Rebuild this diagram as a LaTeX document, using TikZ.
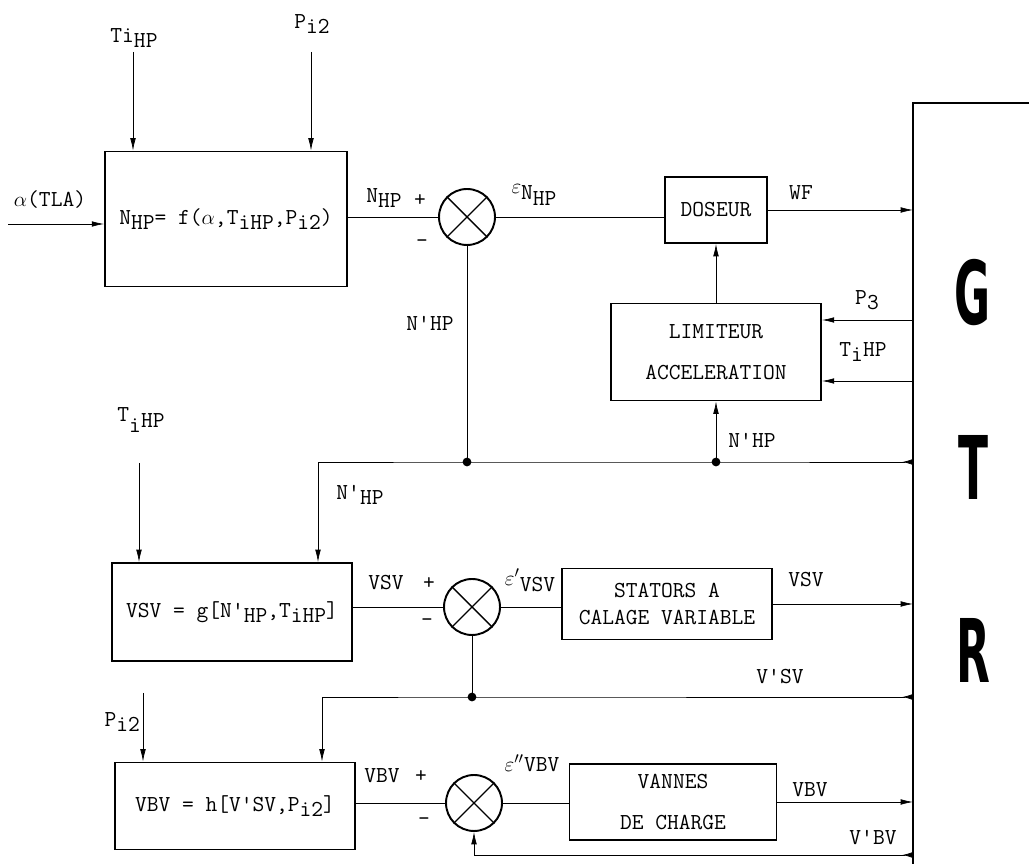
\documentclass[tikz,border=0pt]{standalone}
\usepackage{fontspec}
\usepackage{tikz}
\usetikzlibrary{arrows.meta}
\newfontfamily\gtrfont{DejaVu Sans}

\newcommand{\lowtxt}[1]{\raisebox{-0.55ex}{#1}}
\newcommand{\hightxt}[1]{\raisebox{0.6ex}{#1}}

\begin{document}
\begin{tikzpicture}[x=0.02cm,y=-0.02cm,
  >={Latex[length=7pt,width=3.2pt]},
  every node/.style={font=\ttfamily\fontsize{13}{15}\selectfont},
  blk/.style={draw,line width=1.1pt,align=center,inner sep=0pt},
  summer/.style={draw,circle,line width=1.1pt,minimum size=1.12cm,inner sep=0pt},
  dot/.style={circle,fill,inner sep=0pt,minimum size=5pt},
  lbl/.style={inner sep=1pt},
  back/.style={{Latex[reversed,length=6pt,width=3.5pt]}->},
  gtrtxt/.style={font=\gtrfont\bfseries\fontsize{50}{50}\selectfont}]
  \useasboundingbox (0,0) rectangle (1029,864);
  % blocks
  \node[blk,minimum width=4.84cm,minimum height=2.7cm] (fbox) at (226,219)
    {N\lowtxt{HP}= f($\alpha$,T\lowtxt{iHP},P\lowtxt{i2})};
  \node[summer] (sum1) at (467,217) {};
  \node[blk,minimum width=2.04cm,minimum height=1.32cm] (doseur) at (716,210) {DOSEUR};
  \node[blk,minimum width=4.2cm,minimum height=1.94cm] (lim) at (716,352)
    {LIMITEUR\\[8pt]ACCELERATION};
  \node[blk,minimum width=4.8cm,minimum height=1.96cm] (vsvbox) at (232,612)
    {VSV = g[N'\lowtxt{HP},T\lowtxt{iHP}]};
  \node[summer] (sum2) at (472,607) {};
  \node[blk,minimum width=4.2cm,minimum height=1.42cm] (stat) at (667,604)
    {STATORS A\\[0pt]CALAGE VARIABLE};
  \node[blk,minimum width=4.8cm,minimum height=1.74cm] (vbvbox) at (235,806)
    {VBV = h[V'SV,P\lowtxt{i2}]};
  \node[summer] (sum3) at (474,803) {};
  \node[blk,minimum width=4.14cm,minimum height=1.52cm] (vannes) at (673,802)
    {VANNES\\[8pt]DE CHARGE};
  \foreach \s in {sum1,sum2,sum3}
    \draw[line width=0.8pt] (\s.north west) -- (\s.south east)
                            (\s.north east) -- (\s.south west);
  % GTR
  \coordinate (gtr) at (913,103);
  \draw[line width=1.1pt] (1029,103) -- (gtr) -- (913,864);
  \node[gtrtxt] (lg) at (973,293) {\scalebox{0.5}[1]{G}};
  \node[gtrtxt] (lt) at (973,467) {\scalebox{0.5}[1]{T}};
  \node[gtrtxt] (lr) at (973,650) {\scalebox{0.5}[1]{R}};
  % inputs of the first block
  \coordinate (ain) at (8,224);
  \coordinate (ti1) at (133,52);
  \coordinate (pi1) at (311,52);
  \draw[->] (ain) -- (ain -| fbox.west);
  \draw[->] (ti1) -- (ti1 |- fbox.north);
  \draw[->] (pi1) -- (pi1 |- fbox.north);
  \node[lbl] (lalpha) at (50,200) {$\alpha$(TLA)};
  \node[lbl] (lti1) at (134,38) {Ti\lowtxt{HP}};
  \node[lbl] (lpi1) at (312,24) {P\lowtxt{i2}};
  % speed loop
  \draw (fbox.east |- sum1) -- (sum1.west);
  \draw (sum1.east) -- (sum1.east -| doseur.west);
  \draw[->] (doseur.east) -- (doseur.east -| gtr);
  \draw[->] (lim.north) -- (doseur.south);
  \node[lbl] (lnhp) at (384,198) {N\lowtxt{HP}};
  \node[lbl] (lp1) at (420,200) {+};
  \node[lbl] (lm1) at (422,244) {-};
  \node[lbl] (leps1) at (534,195) {\hightxt{$\varepsilon$}N\lowtxt{HP}};
  \node[lbl] (lwf) at (801,193) {WF};
  % limiter inputs
  \coordinate (gp3) at (913,320);
  \coordinate (gti) at (913,381);
  \draw[->] (gp3) -- (gp3 -| lim.east);
  \draw[->] (gti) -- (gti -| lim.east);
  \node[lbl] (lp3) at (867,300) {P\lowtxt{3}};
  \node[lbl] (lti2) at (863,352) {T\lowtxt{i}HP};
  % N'HP bus
  \coordinate (gn) at (913,462);
  \coordinate (j1) at (467,462);
  \coordinate (j2) at (716,462);
  \coordinate (tn) at (318,462);
  \draw[back] (gn) -- (j2) -- (j1) -- (tn) -- (tn |- vsvbox.north);
  \draw (sum1.south) -- (j1);
  \draw[->] (j2) -- (lim.south);
  \node[dot] (d1) at (j1) {};
  \node[dot] (d2) at (j2) {};
  \node[lbl] (lnp1) at (430,323) {N'HP};
  \node[lbl] (lnp2) at (752,440) {N'HP};
  \node[lbl] (lnp3) at (360,495) {N'\lowtxt{HP}};
  % VSV loop
  \coordinate (ti3) at (139,463);
  \draw[->] (ti3) -- (ti3 |- vsvbox.north);
  \node[lbl] (lti3) at (141,420) {\hightxt{T}\lowtxt{i}HP};
  \draw (vsvbox.east |- sum2) -- (sum2.west);
  \draw (sum2.east) -- (sum2.east -| stat.west);
  \draw[->] (stat.east) -- (stat.east -| gtr);
  \node[lbl] (lvsv1) at (386,583) {VSV};
  \node[lbl] (lp2) at (429,583) {+};
  \node[lbl] (lm2) at (427,623) {-};
  \node[lbl] (leps2) at (530,580) {\hightxt{$\varepsilon'$}VSV};
  \node[lbl] (lvsv2) at (806,580) {VSV};
  % V'SV bus
  \coordinate (gv) at (913,697);
  \coordinate (j3) at (472,697);
  \coordinate (tv) at (322,697);
  \draw[back] (gv) -- (j3) -- (tv) -- (tv |- vbvbox.north);
  \draw (sum2.south) -- (j3);
  \node[dot] (d3) at (j3) {};
  \node[lbl] (lvsv3) at (780,677) {V'SV};
  % VBV loop
  \coordinate (pi3) at (143,693);
  \draw[->] (pi3) -- (pi3 |- vbvbox.north);
  \node[lbl,anchor=east] (lpi3) at (142,722) {P\lowtxt{i2}};
  \draw (vbvbox.east |- sum3) -- (sum3.west);
  \draw (sum3.east) -- (sum3.east -| vannes.west);
  \draw[->] (vannes.east) -- (vannes.east -| gtr);
  \coordinate (gb) at (913,855);
  \draw[back] (gb) -- (gb -| sum3) -- (sum3.south);
  \node[lbl] (lvbv1) at (382,776) {VBV};
  \node[lbl] (lp3s) at (421,776) {+};
  \node[lbl] (lm3) at (424,822) {-};
  \node[lbl] (leps3) at (532,763) {$\varepsilon''$VBV};
  \node[lbl] (lvbv2) at (810,790) {VBV};
  \node[lbl] (lvbv3) at (873,838) {V'BV};
\end{tikzpicture}
\end{document}
